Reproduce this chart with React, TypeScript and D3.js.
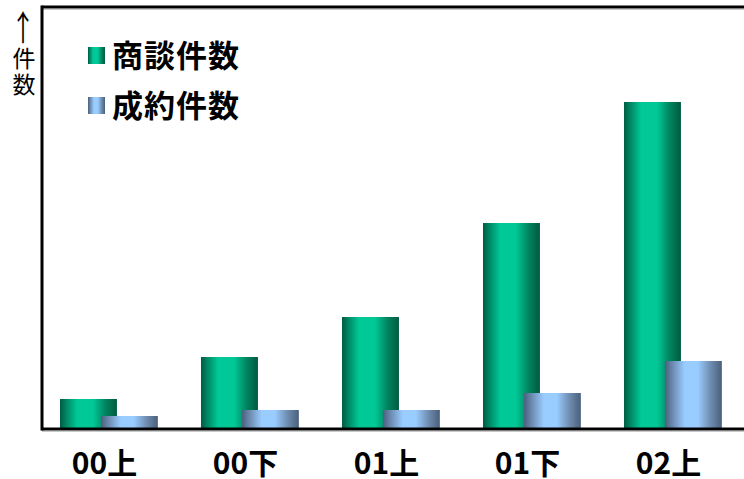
import React from "react";
import * as d3 from "d3";

const categories = ["00上", "00下", "01上", "01下", "02上"];
const seriesNames = ["商談件数", "成約件数"];
const negotiations = [30, 72, 112, 206, 327];
const contracts = [13, 19, 19, 36, 68];

const W = 744;
const H = 479;
const left = 42;
const top = 7;
const baseY = 429;

export default function App() {
  const x = d3.scaleBand<string>().domain(categories).range([37, 742]).paddingInner(0).paddingOuter(0);
  const y = d3.scaleLinear().domain([0, 420]).range([baseY, baseY - 420]);
  const bw = x.bandwidth();
  const barW = bw * 0.404;
  const gStart = bw * 0.163;
  const bOff = bw * 0.29;
  const font = "'Noto Sans CJK JP', 'Noto Sans', sans-serif";

  return (
    <svg width={W} height={H} style={{ position: "absolute", left: 0, top: 0, background: "#fff" }}>
      <defs>
        <linearGradient id="gGreen" x1="0" x2="1" y1="0" y2="0">
          <stop offset="0" stopColor="#005c44" />
          <stop offset="0.12" stopColor="#008a66" />
          <stop offset="0.3" stopColor="#00c896" />
          <stop offset="0.58" stopColor="#00c896" />
          <stop offset="0.8" stopColor="#00845f" />
          <stop offset="1" stopColor="#005a40" />
        </linearGradient>
        <linearGradient id="gBlue" x1="0" x2="1" y1="0" y2="0">
          <stop offset="0" stopColor="#4a5f7c" />
          <stop offset="0.15" stopColor="#6f8eb5" />
          <stop offset="0.35" stopColor="#99ccff" />
          <stop offset="0.58" stopColor="#99ccff" />
          <stop offset="0.8" stopColor="#6f8db0" />
          <stop offset="1" stopColor="#4a5f7c" />
        </linearGradient>
      </defs>

      {/* frame shadows */}
      <line x1={left} x2={W} y1={top + 2.5} y2={top + 2.5} stroke="#c8c8c8" strokeWidth={1} />
      <line x1={left} x2={W} y1={baseY + 2.5} y2={baseY + 2.5} stroke="#c8c8c8" strokeWidth={1} />

      {categories.map((c, i) => {
        const x0 = x(c)!;
        return (
          <g key={c}>
            <rect x={x0 + gStart} y={y(negotiations[i])} width={barW} height={baseY - y(negotiations[i])} fill="url(#gGreen)" />
            <rect x={x0 + gStart + bOff} y={y(contracts[i])} width={barW} height={baseY - y(contracts[i])} fill="url(#gBlue)" />
          </g>
        );
      })}

      {/* frame */}
      <line x1={left} x2={W} y1={top} y2={top} stroke="#000" strokeWidth={3} />
      <line x1={left} x2={W} y1={baseY} y2={baseY} stroke="#000" strokeWidth={3} />
      <line x1={left} x2={left} y1={top - 1.5} y2={baseY + 1.5} stroke="#000" strokeWidth={3} />

      {/* x labels */}
      {categories.map((c) => (
        <text key={c} x={x(c)! + bw / 2 - 3} y={474} textAnchor="middle" fontFamily={font} fontWeight="bold" fontSize={30} fill="#000">
          {c}
        </text>
      ))}

      {/* y label */}
      <g transform="translate(23, 41) scale(1, 1.45)">
        <text x={0} y={0} textAnchor="middle" fontFamily={font} fontSize={24} fill="#000">↑</text>
      </g>
      <text x={24} y={67} textAnchor="middle" fontFamily={font} fontSize={23} fill="#000">件</text>
      <text x={24} y={93} textAnchor="middle" fontFamily={font} fontSize={23} fill="#000">数</text>

      {/* legend */}
      {seriesNames.map((s, i) => (
        <g key={s} transform={`translate(88, ${47 + i * 50})`}>
          <rect x={0} y={0} width={17} height={17} fill={i === 0 ? "url(#gGreen)" : "url(#gBlue)"} />
          <text x={24} y={20} fontFamily={font} fontWeight="bold" fontSize={31} letterSpacing={1} fill="#000">{s}</text>
        </g>
      ))}
    </svg>
  );
}
